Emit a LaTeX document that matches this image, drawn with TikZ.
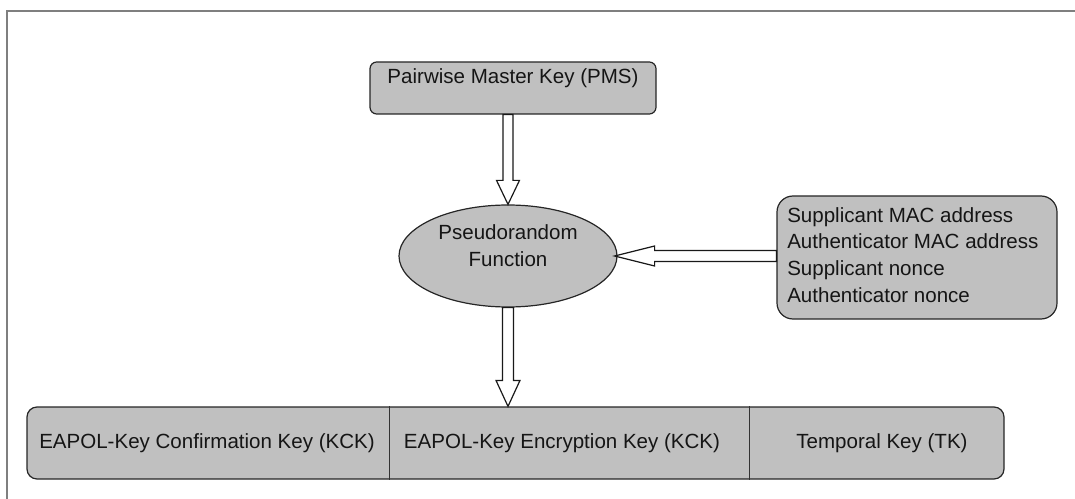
\documentclass[tikz,border=0pt]{standalone}
\usepackage{fontspec}
\setmainfont{Liberation Sans}
\usetikzlibrary{calc,shapes.geometric}

\definecolor{boxgray}{HTML}{C0C0C0}
\definecolor{framegray}{HTML}{7F7F7F}
\definecolor{inkdark}{HTML}{151515}

% outlined block arrow: #1 start, #2 tip, #3 half shaft width,
% #4 half head width, #5 head length
\newcommand\blockarrow[5]{%
  \coordinate (ab) at ($(#2)!#5!(#1)$);
  \draw[blockarrowline]
    ($(#1)!#3!90:(#2)$) --
    ($(ab)!#3!90:(#2)$) --
    ($(ab)!#4!90:(#2)$) --
    (#2) --
    ($(ab)!#4!-90:(#2)$) --
    ($(ab)!#3!-90:(#2)$) --
    ($(#1)!#3!-90:(#2)$) -- cycle;
}

\begin{document}
\begin{tikzpicture}[x=0.75pt,y=-0.75pt,
  every node/.style={font=\fontsize{15.4}{20}\selectfont, text=inkdark, inner sep=0pt},
  graybox/.style={draw=black!85, line width=0.9pt, fill=boxgray},
  blockarrowline/.style={draw=black!90, line width=0.9pt, fill=white, line join=miter},
  framestyle/.style={draw=framegray, line width=1.5pt},
  divider/.style={draw=black!80, line width=0.75pt}]

\useasboundingbox (0,0) rectangle (1075,499);

% outer frame (top and left edges)
\draw[framestyle] (1075,11) -- (7,11) -- (7,499);

% pairwise master key
\node[graybox, rounded corners=5pt, minimum width=214.5pt, minimum height=39pt] (pms) at (513,88) {};
\node (pmstext) at (513,78) {Pairwise Master Key (PMS)};

% pseudorandom function
\node[graybox, ellipse, minimum width=163.5pt, minimum height=76.5pt] (prf) at (508,256) {};
\node[align=center] (prftext) at (508,245.5) {Pseudorandom\\Function};

% inputs
\node[graybox, rounded corners=12pt, minimum width=210pt, minimum height=92.25pt] (kin) at (917,257.5) {};
\node[align=left, anchor=north west] (kintext) at (787,207)
  {Supplicant MAC address\\Authenticator MAC address\\Supplicant nonce\\Authenticator nonce};

% derived keys
\node[graybox, rounded corners=7.5pt, minimum width=732.75pt, minimum height=54pt] (keys) at (515.5,443) {};
\coordinate (d1) at (389,443);
\coordinate (d2) at (749,443);
\draw[divider] (d1 |- keys.north) -- (d1 |- keys.south);
\draw[divider] (d2 |- keys.north) -- (d2 |- keys.south);
\node[anchor=base] (kck) at (207,448) {EAPOL-Key Confirmation Key (KCK)};
\node[anchor=base] (kek) at (562,448) {EAPOL-Key Encryption Key (KCK)};
\node[anchor=base] (tk) at (882,448) {Temporal Key (TK)};

% flow arrows
\coordinate (a1s) at (pms.south -| prf.north);
\blockarrow{a1s}{prf.north}{3.75pt}{8.6pt}{18pt}
\coordinate (a2s) at (kin.west |- prf.east);
\coordinate (a2t) at ($(prf.east)+(-3,0)$);
\blockarrow{a2s}{a2t}{4.1pt}{7.5pt}{30pt}
\coordinate (a3t) at (keys.north -| prf.south);
\blockarrow{prf.south}{a3t}{4.1pt}{9pt}{19.5pt}

\end{tikzpicture}
\end{document}
